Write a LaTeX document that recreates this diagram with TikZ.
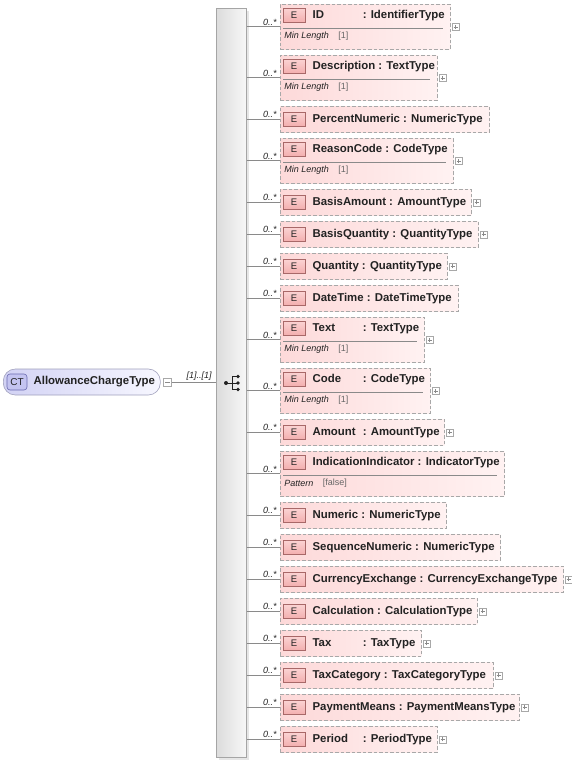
\documentclass[tikz,border=0pt]{standalone}
\usepackage{fontspec}
\setmainfont{Liberation Sans}
\usetikzlibrary{calc}
\definecolor{xtext}{HTML}{222222}
\definecolor{xline}{HTML}{8A8A8A}
\definecolor{xdash}{HTML}{A8A8A8}
\definecolor{xpinkA}{HTML}{FDD9D9}
\definecolor{xpinkB}{HTML}{FFF2F2}
\definecolor{xeborder}{HTML}{A86868}
\definecolor{xetop}{HTML}{FBD3D3}
\definecolor{xebot}{HTML}{F3AFAF}
\definecolor{xbarA}{HTML}{DCDCDC}
\definecolor{xbarB}{HTML}{F7F7F7}
\definecolor{xbarline}{HTML}{A5A5A5}
\definecolor{xshadow}{HTML}{E6E6E6}
\definecolor{xctA}{HTML}{D2D2F4}
\definecolor{xctB}{HTML}{F7F7FF}
\definecolor{xctline}{HTML}{A0A0BC}
\definecolor{xcticon}{HTML}{C4C4F0}
\definecolor{xcticonline}{HTML}{6A6AB0}
\definecolor{xvalue}{HTML}{666666}

% short element names get a fixed column, so the colons line up
\newcommand{\padname}[1]{\makebox[47pt][l]{#1}}

% element with one header row: node name, top, right edge, name, type
\newcommand{\xelem}[5]{%
  \node[elbox, minimum width=#3-280, minimum height=26] (#1) at (280,#2) {};
  \node[eicon] (#1-e) at ([xshift=14pt]#1.west) {E};
  \node[elname] (#1-n) at ([xshift=7pt]#1-e.east) {#4 : #5};
  \draw[conn] (seq.east |- #1.west) -- (#1.west) node[card] {0..*};
}

% element with a facet row under the header
\newcommand{\xfelem}[7]{%
  \node[elbox, minimum width=#3-280, minimum height=45] (#1) at (280,#2) {};
  \node[eicon] (#1-e) at ([xshift=14pt, yshift=-11pt]#1.north west) {E};
  \node[elname] (#1-n) at ([xshift=7pt]#1-e.east) {#4 : #5};
  \draw[facetline] ([xshift=3pt, yshift=-24pt]#1.north west) -- ([xshift=-8pt, yshift=-24pt]#1.north east);
  \node[facet] (#1-f) at ([xshift=4pt, yshift=-32pt]#1.north west) {#6};
  \node[facetval] (#1-v) at ([xshift=9pt]#1-f.east) {#7};
  \draw[conn] (seq.east |- #1.west) -- (#1.west) node[card] {0..*};
}

\newcommand{\xplus}[1]{\node[plusbox] (#1-p) at ([xshift=5pt]#1.east) {};}

\begin{document}
\begin{tikzpicture}[x=1pt, y=-1pt, line width=0.6pt,
  elbox/.style={draw=xdash, dash pattern=on 3.5pt off 2pt, left color=xpinkA, right color=xpinkB,
    anchor=north west, inner sep=0pt},
  eicon/.style={draw=xeborder, top color=xetop, bottom color=xebot, minimum width=22, minimum height=14,
    inner sep=0pt, text=xtext, font=\fontsize{9.5}{10}\selectfont},
  elname/.style={anchor=west, inner sep=0pt, text height=8.5pt, text depth=2.5pt, text=xtext,
    font=\fontsize{11.4}{13}\selectfont\bfseries},
  facetline/.style={draw=xline, line width=0.5pt},
  facet/.style={anchor=west, inner sep=0pt, text=xtext, font=\fontsize{9}{10}\selectfont\itshape},
  facetval/.style={anchor=west, inner sep=0pt, text=xvalue, font=\fontsize{9}{10}\selectfont},
  conn/.style={draw=xline, line width=0.8pt},
  card/.style={pos=1, anchor=south east, xshift=-2pt, inner sep=1pt, text=xtext,
    font=\fontsize{9}{10}\selectfont\itshape},
  plusbox/.style={draw=xdash, fill=white, minimum size=7, inner sep=0pt, line width=0.5pt,
    path picture={\draw[xline, line width=0.5pt]
      ([xshift=1.5pt]path picture bounding box.west) -- ([xshift=-1.5pt]path picture bounding box.east)
      ([yshift=1.5pt]path picture bounding box.south) -- ([yshift=-1.5pt]path picture bounding box.north);}},
  minusbox/.style={draw=xdash, fill=white, minimum size=8, inner sep=0pt, line width=0.5pt,
    path picture={\draw[xline, line width=0.5pt]
      ([xshift=1.5pt]path picture bounding box.west) -- ([xshift=-1.5pt]path picture bounding box.east);}},
  seqbar/.style={draw=xbarline, left color=xbarA, right color=xbarB, minimum width=30,
    minimum height=749, anchor=north west, inner sep=0pt},
  seqicon/.style={draw=xtext, line width=0.6pt},
  ctbox/.style={draw=xctline, left color=xctA, right color=xctB, rounded corners=12pt,
    minimum width=157, minimum height=26, anchor=west, inner sep=0pt},
  cticon/.style={draw=xcticonline, fill=xcticon, rounded corners=3pt, minimum width=20,
    minimum height=16, inner sep=0pt, text=xtext, font=\fontsize{10}{11}\selectfont},
  ctname/.style={anchor=west, inner sep=0pt, text=xtext, font=\fontsize{11.4}{13}\selectfont\bfseries}]

  \useasboundingbox (0,0) rectangle (572,761);

  % the complex type
  \node[ctbox] (act) at (3,382) {};
  \node[cticon] (act-i) at ([xshift=14pt]act.west) {CT};
  \node[ctname] (act-n) at ([xshift=6pt]act-i.east) {AllowanceChargeType};
  \node[minusbox] (act-m) at ([xshift=7pt]act.east) {};

  % sequence bar, with its shadow
  \fill[xshadow] (219,11) rectangle (249,760);
  \node[seqbar] (seq) at (216,8) {};
  \draw[conn] (act-m.east) -- (seq.west |- act-m.east) node[card, xshift=-1pt] {[1]..[1]};

  % sequence icon
  \coordinate (sq) at (232,383);
  \draw[seqicon] ([xshift=-6pt]sq) -- (sq);
  \draw[seqicon] ([yshift=6.5pt]sq) -- ([yshift=-6.5pt]sq);
  \draw[seqicon] ([yshift=6.5pt]sq) -- ([xshift=6pt, yshift=6.5pt]sq);
  \draw[seqicon] (sq) -- ([xshift=6pt]sq);
  \draw[seqicon] ([yshift=-6.5pt]sq) -- ([xshift=6pt, yshift=-6.5pt]sq);
  \fill[xtext] ([xshift=-6pt]sq) circle (2);
  \fill[xtext] ([xshift=6pt, yshift=6.5pt]sq) circle (1.8);
  \fill[xtext] ([xshift=6pt]sq) circle (1.8);
  \fill[xtext] ([xshift=6pt, yshift=-6.5pt]sq) circle (1.8);

  % the elements of the sequence
  \xfelem{id}{4}{450}{\padname{ID}}{IdentifierType}{Min Length}{[1]}
  \xfelem{desc}{55}{437}{Description}{TextType}{Min Length}{[1]}
  \xelem{pctnum}{106}{489}{PercentNumeric}{NumericType}
  \xfelem{reason}{138}{453}{ReasonCode}{CodeType}{Min Length}{[1]}
  \xelem{basisamt}{189}{471}{BasisAmount}{AmountType}
  \xelem{basisqty}{221}{478}{BasisQuantity}{QuantityType}
  \xelem{qty}{253}{447}{Quantity}{QuantityType}
  \xelem{datetime}{285}{458}{DateTime}{DateTimeType}
  \xfelem{text}{317}{424}{\padname{Text}}{TextType}{Min Length}{[1]}
  \xfelem{code}{368}{430}{\padname{Code}}{CodeType}{Min Length}{[1]}
  \xelem{amount}{419}{444}{\padname{Amount}}{AmountType}
  \xfelem{indication}{451}{504}{IndicationIndicator}{IndicatorType}{Pattern}{[false]}
  \xelem{numeric}{502}{446}{Numeric}{NumericType}
  \xelem{seqnum}{534}{500}{SequenceNumeric}{NumericType}
  \xelem{currency}{566}{563}{CurrencyExchange}{CurrencyExchangeType}
  \xelem{calc}{598}{477}{Calculation}{CalculationType}
  \xelem{tax}{630}{421}{\padname{Tax}}{TaxType}
  \xelem{taxcat}{662}{493}{TaxCategory}{TaxCategoryType}
  \xelem{paymeans}{694}{519}{PaymentMeans}{PaymentMeansType}
  \xelem{period}{726}{437}{\padname{Period}}{PeriodType}

  % expand markers
  \xplus{id} \xplus{desc} \xplus{reason} \xplus{basisamt} \xplus{basisqty}
  \xplus{qty} \xplus{text} \xplus{code} \xplus{amount} \xplus{currency}
  \xplus{calc} \xplus{tax} \xplus{taxcat} \xplus{paymeans} \xplus{period}
\end{tikzpicture}
\end{document}
